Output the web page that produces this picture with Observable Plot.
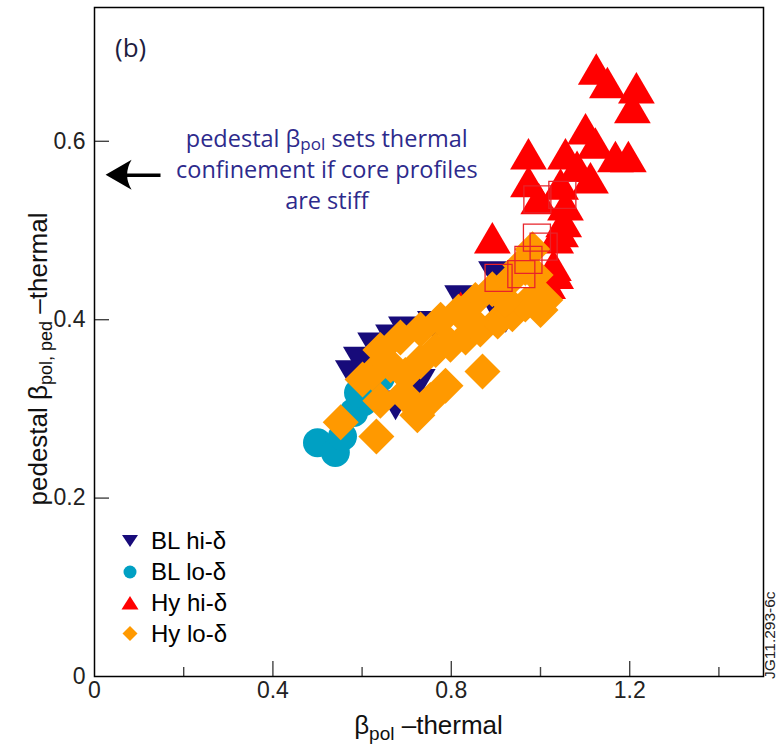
<!DOCTYPE html>
<html><head><meta charset="utf-8">
<script src="https://cdn.jsdelivr.net/npm/d3@7"></script>
<script src="https://cdn.jsdelivr.net/npm/@observablehq/plot@0.6"></script>
<style>
body{margin:0;background:#fff;}
#wrap{position:relative;width:777px;height:745px;overflow:hidden;}
.legend{position:absolute;left:121px;top:525px;font-family:"Liberation Sans",Arial,sans-serif;font-size:24px;color:#000;}
.legend .row{display:flex;align-items:center;height:31px;}
.legend svg{margin-right:12px;}
</style></head><body><div id="wrap"></div>
<script>
// ---- data (x = beta_pol thermal, y = pedestal beta_pol,ped thermal) ----
const blHiDelta = [[0.823,0.422],[0.762,0.393],[0.697,0.387],[0.668,0.378],[0.628,0.369],[0.596,0.353],[0.578,0.338],[0.726,0.328],[0.675,0.304],[0.922,0.402],[0.895,0.417],[0.899,0.449]];
const blLoDelta = [[0.500,0.262],[0.540,0.251],[0.556,0.269],[0.581,0.296],[0.603,0.308],[0.592,0.318],[0.623,0.328],[0.641,0.335]];
const hyHiDelta = [[1.125,0.681],[1.150,0.666],[1.215,0.660],[1.206,0.638],[1.101,0.614],[1.123,0.598],[1.168,0.583],[1.197,0.583],[0.973,0.586],[1.056,0.586],[1.082,0.572],[1.112,0.559],[0.973,0.555],[0.996,0.536],[1.045,0.552],[1.056,0.529],[1.052,0.510],[1.034,0.492],[0.892,0.492],[1.034,0.452],[0.821,0.414],[1.016,0.441],[1.045,0.499],[1.029,0.461]];
const hyLoDelta = [[0.552,0.285],[0.632,0.269],[0.724,0.293],[0.693,0.316],[0.753,0.310],[0.870,0.342],[0.623,0.340],[0.664,0.349],[0.697,0.338],[0.731,0.353],[0.765,0.366],[0.798,0.372],[0.832,0.380],[0.865,0.389],[0.904,0.398],[0.937,0.406],[0.966,0.417],[0.996,0.428],[0.641,0.366],[0.686,0.380],[0.731,0.389],[0.776,0.400],[0.816,0.409],[0.854,0.422],[0.892,0.434],[0.933,0.445],[0.966,0.458],[0.982,0.479],[0.601,0.333],[1.000,0.411],[0.955,0.461],[0.922,0.422],[1.011,0.422],[0.989,0.450],[0.843,0.399],[0.641,0.309],[0.787,0.326]];
const highlighted = [[0.993,0.535],[1.049,0.540],[0.992,0.492],[1.007,0.482],[0.973,0.467],[0.957,0.451],[0.906,0.447]];

const seriesNames = ["BL hi-δ","BL lo-δ","Hy hi-δ","Hy lo-δ"];
const seriesColors = ["#170b7a","#00a0c3","#ff0000","#ff9900"];
const seriesShapes = ["triDown","circle","triUp","diamond"];
const squareColor = "#e8232a";

const xLabelTicks = [0,0.4,0.8,1.2];
const xMajorTicks = [0.4,0.8,1.2];
const xMinorTicks = [0.2,0.6,1.0,1.4];
const yLabelTicks = [0,0.2,0.4,0.6];
const yMajorTicks = [0.2,0.4,0.6];

const annotationLines = [["pedestal β","pol"," sets thermal"],["confinement if core profiles"],["are stiff"]];
const annotationAnchor = [0.522, 0.593];
const arrowFrom = [0.148, 0.562], arrowTo = [0.026, 0.562];

// ---- symbols ----
const rad = s => Math.sqrt(s/Math.PI);
const sym = {
  triUp:{draw(c,s){const r=rad(s);c.moveTo(0,-0.9*r);c.lineTo(1.05*r,0.9*r);c.lineTo(-1.05*r,0.9*r);c.closePath();}},
  triDown:{draw(c,s){const r=rad(s);c.moveTo(0,0.9*r);c.lineTo(1.05*r,-0.9*r);c.lineTo(-1.05*r,-0.9*r);c.closePath();}},
  diamond:{draw(c,s){const r=rad(s);c.moveTo(0,-r);c.lineTo(r,0);c.lineTo(0,r);c.lineTo(-r,0);c.closePath();}},
  square:{draw(c,s){const r=rad(s);c.rect(-r,-r,2*r,2*r);}}
};

const W=777,H=745,mL=94,mR=14,mT=7,mB=69;
const frameH = H-mT-mB, frameW = W-mL-mR;

const svg = Plot.plot({
  width:W, height:H, marginLeft:mL, marginRight:mR, marginTop:mT, marginBottom:mB,
  style:{fontFamily:"'Liberation Sans', Arial, sans-serif", fontSize:"23px", color:"#222", background:"#fff"},
  x:{domain:[0,1.5], ticks:xLabelTicks, tickSize:0, tickPadding:5, tickFormat:d=>String(d), label:null},
  y:{domain:[0,0.75], ticks:yLabelTicks, tickSize:0, tickPadding:9, tickFormat:d=>String(d), label:null},
  marks:[
    Plot.ruleX(xMajorTicks,{x:d=>d, insetTop:frameH-15, stroke:"#444", strokeWidth:1.4}),
    Plot.ruleX(xMinorTicks,{x:d=>d, insetTop:frameH-9, stroke:"#444", strokeWidth:1.4}),
    Plot.ruleY(yMajorTicks,{y:d=>d, insetRight:frameW-15, stroke:"#444", strokeWidth:1.4}),
    Plot.dot(blHiDelta,{x:d=>d[0],y:d=>d[1],symbol:sym.triDown,r:16.5,fill:seriesColors[0],stroke:"none"}),
    Plot.dot(blLoDelta,{x:d=>d[0],y:d=>d[1],symbol:"circle",r:14.5,fill:seriesColors[1],stroke:"none"}),
    Plot.dot(hyHiDelta,{x:d=>d[0],y:d=>d[1],symbol:sym.triUp,r:17.5,fill:seriesColors[2],stroke:"none"}),
    Plot.dot(hyLoDelta,{x:d=>d[0],y:d=>d[1],symbol:sym.diamond,r:18,fill:seriesColors[3],stroke:"none"}),
    Plot.dot(highlighted,{x:d=>d[0],y:d=>d[1],symbol:sym.square,r:13.5,fill:"none",stroke:squareColor,strokeWidth:1.3}),
    Plot.link([0],{x1:()=>arrowFrom[0],y1:()=>arrowFrom[1],x2:()=>arrowTo[0]+0.025,y2:()=>arrowTo[1],stroke:"#000",strokeWidth:3.5}),
    Plot.frame({stroke:"#000",strokeWidth:1.5})
  ]
});

const xs = svg.scale("x"), ys = svg.scale("y");
const s = d3.select(svg);
// arrow head (filled, concave back)
{
  const tx = xs.apply(arrowTo[0]), ty = ys.apply(arrowTo[1]);
  s.append("path").attr("d",`M${tx},${ty} L${tx+26},${ty-15} Q${tx+17},${ty} ${tx+26},${ty+15} Z`).attr("fill","#000");
}
// annotation text
annotationLines.forEach((parts,i)=>{
  const t = s.append("text").attr("x",xs.apply(annotationAnchor[0])).attr("y",ys.apply(annotationAnchor[1])+i*31)
    .attr("text-anchor","middle").attr("font-family","'Open Sans',Lato,sans-serif").attr("font-size",23.5).attr("fill","#2d2a8c");
  if(parts.length===1){t.text(parts[0]);}
  else{
    t.append("tspan").text(parts[0]);
    t.append("tspan").attr("dy",3).attr("font-size",17).text(parts[1]);
    t.append("tspan").attr("dy",-3).text(parts[2]);
  }
});
// (b)
s.append("text").attr("x",mL+21).attr("y",57).attr("text-anchor","start").attr("font-family","'Open Sans',sans-serif").attr("font-size",26).attr("fill","#1d1d3f").text("(b)");
// x label
const xl = s.append("text").attr("x",mL+frameW*0.5).attr("y",H-11).attr("text-anchor","middle")
  .attr("font-family","'Liberation Sans',Arial,sans-serif").attr("font-size",26).attr("fill","#111");
xl.append("tspan").text("β");
xl.append("tspan").attr("dy",6).attr("font-size",19).text("pol");
xl.append("tspan").attr("dy",-6).text(" –thermal");
// y label
const yl = s.append("text").attr("transform",`translate(47,359) rotate(-90)`).attr("text-anchor","middle")
  .attr("font-family","'Liberation Sans',Arial,sans-serif").attr("font-size",26).attr("fill","#111");
yl.append("tspan").text("pedestal β");
yl.append("tspan").attr("dy",5).attr("font-size",18).text("pol, ped");
yl.append("tspan").attr("dy",-5).text(" –thermal");
// figure id
s.append("text").attr("transform",`translate(775,${mT+frameH+3}) rotate(-90)`).attr("text-anchor","start").attr("font-family","'Liberation Sans',Arial,sans-serif")
  .attr("font-size",15.5).attr("fill","#222").text("JG11.293-6c");

const wrap = document.getElementById("wrap");
wrap.appendChild(svg);

// legend overlay
const leg = document.createElement("div"); leg.className="legend";
const shapePath = {
  triDown:"M1,3 L17,3 L9,15 Z",
  triUp:"M9,2 L17.5,15.5 L0.5,15.5 Z",
  diamond:"M9,1 L16.5,8.5 L9,16 L1.5,8.5 Z"
};
seriesNames.forEach((n,i)=>{
  const row=document.createElement("div"); row.className="row";
  const shape = seriesShapes[i];
  const inner = shape==="circle" ? `<circle cx="9" cy="9" r="6.5" fill="${seriesColors[i]}"/>` : `<path d="${shapePath[shape]}" fill="${seriesColors[i]}"/>`;
  row.innerHTML = `<svg width="18" height="18" viewBox="0 0 18 18">${inner}</svg><span>${n}</span>`;
  leg.appendChild(row);
});
wrap.appendChild(leg);
</script></body></html>
